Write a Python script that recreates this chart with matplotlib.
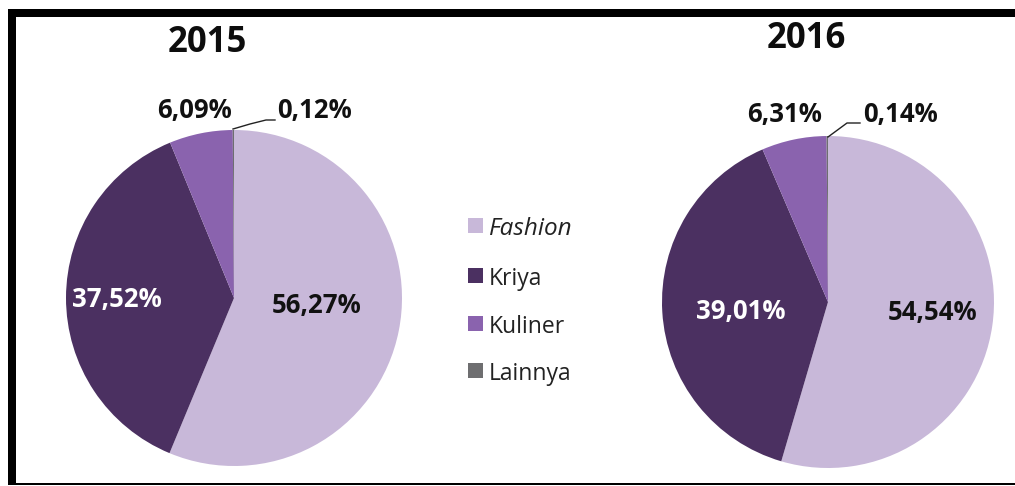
import matplotlib
matplotlib.use("Agg")
import matplotlib.pyplot as plt
from matplotlib.patches import Rectangle
from matplotlib.lines import Line2D

categories = ["Fashion", "Kriya", "Kuliner", "Lainnya"]
years = ["2015", "2016"]
values_2015 = [56.27, 37.52, 6.09, 0.12]
values_2016 = [54.54, 39.01, 6.31, 0.14]
colors = ["#C8B8D9", "#4B3061", "#8A63AE", "#6E6E70"]

W, H = 1015, 486
fig = plt.figure(figsize=(W / 100, H / 100), dpi=100)
fig.patch.set_facecolor("white")
FONT = "Open Sans"

def fx(x):
    return x / W

def fy(y):
    return 1 - y / H

def fmt(v):
    return f"{v:.2f}".replace(".", ",") + "%"

# border
fig.add_artist(Rectangle((fx(8), fy(17)), fx(W - 8), 8 / H, transform=fig.transFigure,
                         facecolor="black", edgecolor="none"))
fig.add_artist(Rectangle((fx(8), fy(485)), 8 / W, (485 - 9) / H, transform=fig.transFigure,
                         facecolor="black", edgecolor="none"))
fig.add_artist(Rectangle((fx(8), fy(485)), fx(W - 8), 2 / H, transform=fig.transFigure,
                         facecolor="black", edgecolor="none"))

pies = [
    dict(vals=values_2015, cx=234, cy=298, r=168, title_xy=(207, 52),
         labels=[(317, 313, "black"), (117, 307, "white"), (194, 118, "black"), (315, 118, "black")],
         leader=[(233, 129), (250, 124), (266, 120), (275, 120)]),
    dict(vals=values_2016, cx=828, cy=302, r=166, title_xy=(806, 48),
         labels=[(933, 320, "black"), (741, 319, "white"), (785, 122, "black"), (901, 122, "black")],
         leader=[(828, 137), (847, 123), (860, 123)]),
]

for yr, p in zip(years, pies):
    ax = fig.add_axes([fx(p["cx"] - p["r"]), fy(p["cy"] + p["r"]), 2 * p["r"] / W, 2 * p["r"] / H])
    ax.pie(p["vals"], colors=colors, startangle=90, counterclock=False, radius=1,
           wedgeprops=dict(linewidth=0))
    ax.set_xlim(-1, 1)
    ax.set_ylim(-1, 1)
    ax.set_aspect("auto")
    ax.axis("off")
    fig.text(fx(p["title_xy"][0]), fy(p["title_xy"][1]), yr, ha="center", va="baseline",
             fontsize=25, fontweight="bold", family=FONT, color="#0d0d0d")
    for v, (lx, ly, c) in zip(p["vals"], p["labels"]):
        col = "white" if c == "white" else "#111111"
        fig.text(fx(lx), fy(ly), fmt(v), ha="center", va="baseline", fontsize=18.5,
                 fontweight="bold", family=FONT, color=col)
    xs = [fx(a) for a, b in p["leader"]]
    ys = [fy(b) for a, b in p["leader"]]
    fig.add_artist(Line2D(xs, ys, transform=fig.transFigure, color="#222222", lw=1))

# legend
leg_base = [235, 285, 333, 380]
for cat, col, lb in zip(categories, colors, leg_base):
    fig.add_artist(Rectangle((fx(468), fy(lb - 2)), 15 / W, 15 / H, transform=fig.transFigure,
                             facecolor=col, edgecolor="none"))
    fig.text(fx(489), fy(lb), cat, ha="left", va="baseline",
             fontsize=17.5 if cat == "Fashion" else 16.5, family=FONT,
             color="#222222", style="italic" if cat == "Fashion" else "normal")

fig.savefig("out.png", dpi=100)
